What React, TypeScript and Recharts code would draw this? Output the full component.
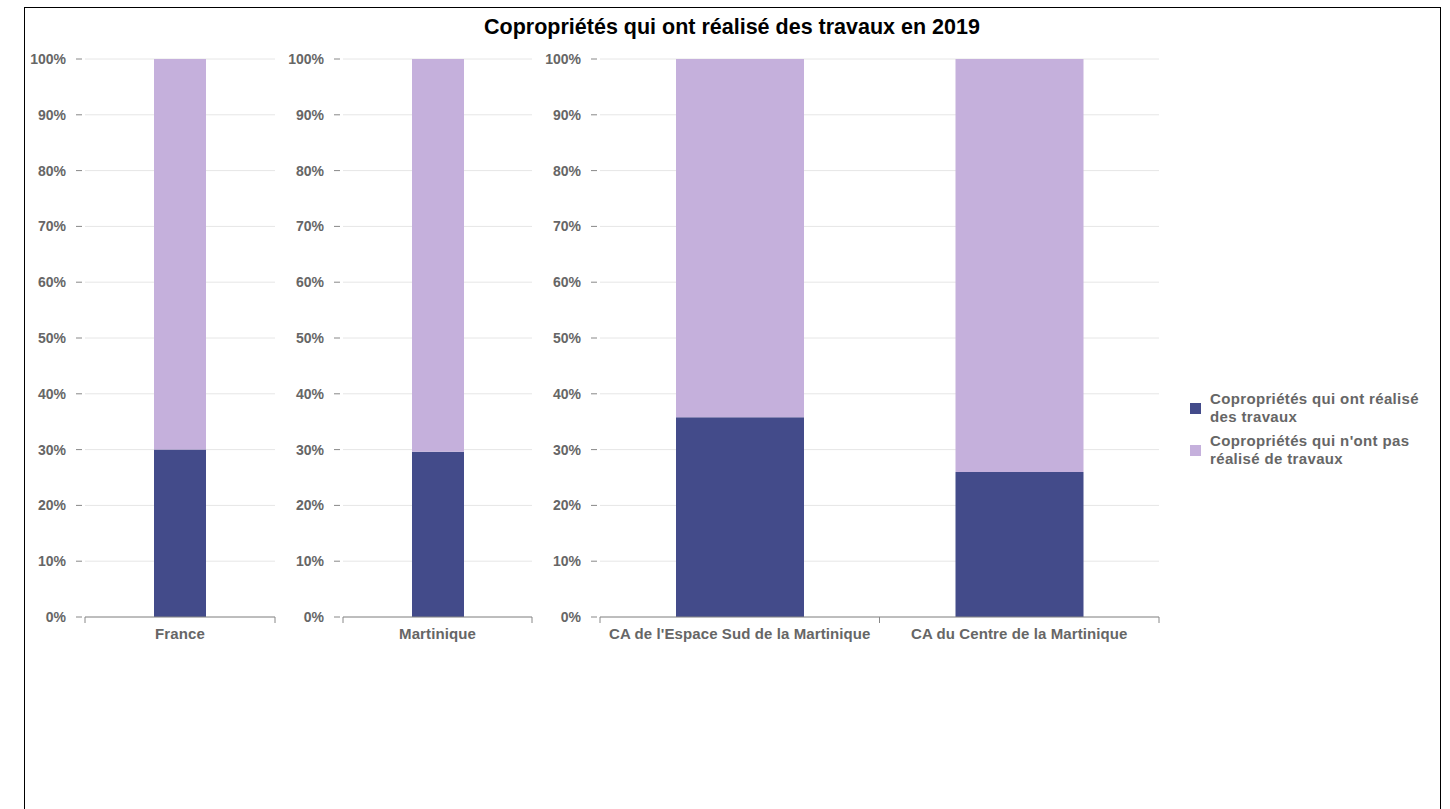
import { BarChart, Bar, XAxis, YAxis, CartesianGrid } from 'recharts';

const seriesNames = [
  'Copropriétés qui ont réalisé des travaux',
  "Copropriétés qui n'ont pas réalisé de travaux",
];
const seriesColors = ['#434b8a', '#c5b0dc'];

const franceCategories = ['France'];
const franceDone = [30.0];
const franceNotDone = [70.0];

const martiniqueCategories = ['Martinique'];
const martiniqueDone = [29.6];
const martiniqueNotDone = [70.4];

const caCategories = ["CA de l'Espace Sud de la Martinique", 'CA du Centre de la Martinique'];
const caDone = [35.8, 26.0];
const caNotDone = [64.2, 74.0];

const yTicks = [0, 10, 20, 30, 40, 50, 60, 70, 80, 90, 100];

const FONT = '"Liberation Sans", Arial, sans-serif';
const LABEL_GRAY = '#666';

const buildRows = (cats: string[], done: number[], notDone: number[]) =>
  cats.map((name, i) => ({ name, done: done[i], notDone: notDone[i] }));

const YTick = ({ x, y, payload }: any) => (
  <g>
    <line x1={x - 9} x2={x - 3} y1={y} y2={y} stroke="#888" />
    <text x={x - 19} y={y} dy={5} textAnchor="end" fill={LABEL_GRAY}
      style={{ fontFamily: FONT, fontSize: 14, fontWeight: 700 }}>
      {payload.value}%
    </text>
  </g>
);

const makeXTick = (bandWidth: number, count: number) => ({ x, y, payload, index }: any) => (
  <g>
    <line x1={x - bandWidth / 2} x2={x - bandWidth / 2} y1={y} y2={y + 6} stroke="#888" />
    {index === count - 1 && (
      <line x1={x + bandWidth / 2} x2={x + bandWidth / 2} y1={y} y2={y + 6} stroke="#888" />
    )}
    <text x={x} y={y + 22} textAnchor="middle" fill={LABEL_GRAY}
      style={{ fontFamily: FONT, fontSize: 15, fontWeight: 700, letterSpacing: 0.1 }}>
      {payload.value}
    </text>
  </g>
);

interface PanelProps {
  left: number;
  plotLeft: number;
  plotRight: number;
  barSize: number;
  rows: { name: string; done: number; notDone: number }[];
}

const PLOT_TOP = 59;
const PLOT_BOTTOM = 617;
const CHART_HEIGHT = 660;

function Panel({ left, plotLeft, plotRight, barSize, rows }: PanelProps) {
  const width = plotRight + 5 - left;
  const bw = (plotRight - plotLeft) / rows.length;
  return (
    <div style={{ position: 'absolute', left, top: 0 }}>
      <BarChart
        width={width}
        height={CHART_HEIGHT}
        data={rows}
        margin={{ top: PLOT_TOP, right: 5, bottom: CHART_HEIGHT - PLOT_BOTTOM - 30, left: 0 }}
      >
        <CartesianGrid vertical={false} stroke="#e6e6e6" />
        <YAxis
          width={plotLeft - left}
          domain={[0, 100]}
          ticks={yTicks}
          axisLine={false}
          tickLine={false}
          tickSize={0}
          tickMargin={0}
          tick={<YTick />}
          interval={0}
        />
        <XAxis
          dataKey="name"
          height={30}
          axisLine={{ stroke: '#888' }}
          tickLine={false}
          tickSize={0}
          tickMargin={0}
          interval={0}
          tick={makeXTick(bw, rows.length)}
        />
        <Bar dataKey="done" stackId="a" fill={seriesColors[0]} barSize={barSize} isAnimationActive={false} />
        <Bar dataKey="notDone" stackId="a" fill={seriesColors[1]} barSize={barSize} isAnimationActive={false} />
      </BarChart>
    </div>
  );
}

export default function App() {
  return (
    <div style={{ position: 'absolute', left: 0, top: 0, width: 1450, height: 809, overflow: 'hidden', background: '#fff' }}>
      <div style={{ position: 'absolute', left: 24, top: 7, width: 1415, height: 900, border: '1px solid #000' }} />
      <div style={{
        position: 'absolute', left: 24, top: 15, width: 1416, textAlign: 'center',
        fontFamily: FONT, fontSize: 21.5, fontWeight: 700, color: '#000', lineHeight: '24px',
      }}>
        Copropriétés qui ont réalisé des travaux en 2019
      </div>

      <Panel left={-1} plotLeft={85} plotRight={275} barSize={52}
        rows={buildRows(franceCategories, franceDone, franceNotDone)} />
      <Panel left={276} plotLeft={343} plotRight={532} barSize={52}
        rows={buildRows(martiniqueCategories, martiniqueDone, martiniqueNotDone)} />
      <Panel left={533} plotLeft={600} plotRight={1159} barSize={128}
        rows={buildRows(caCategories, caDone, caNotDone)} />

      <div style={{ position: 'absolute', left: 1190, top: 390, width: 250 }}>
        {seriesNames.map((name, i) => (
          <div key={name} style={{ display: 'flex', alignItems: 'center', marginBottom: 6 }}>
            <div style={{ width: 11, height: 11, background: seriesColors[i], flexShrink: 0, marginRight: 9 }} />
            <div style={{
              maxWidth: 222, fontFamily: FONT, fontSize: 15, fontWeight: 700,
              color: LABEL_GRAY, lineHeight: '18px', letterSpacing: 0.35,
            }}>
              {name}
            </div>
          </div>
        ))}
      </div>
    </div>
  );
}
